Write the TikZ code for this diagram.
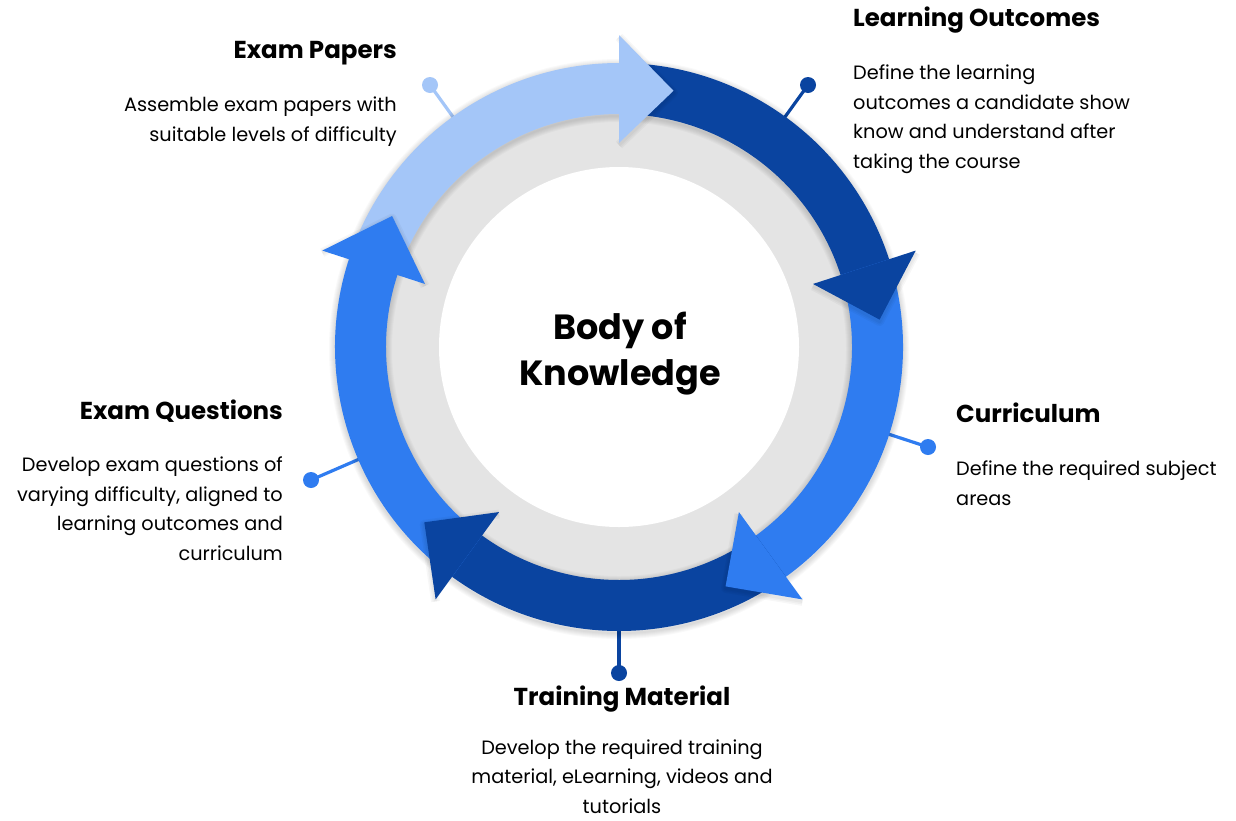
\documentclass[tikz,border=0pt]{standalone}
\usepackage{fontspec}
\setmainfont{Poppins}
\definecolor{lb}{HTML}{A4C6F8}
\definecolor{db}{HTML}{0A44A0}
\definecolor{mb}{HTML}{2F7CF0}
\definecolor{rg}{HTML}{E4E4E4}
\begin{document}
\begin{tikzpicture}[x=1pt,y=-1pt,
  headtxt/.style={font=\fontsize{24.5}{28}\selectfont\bfseries, inner sep=0pt},
  bodytxt/.style={font=\fontsize{19.3}{29.5}\selectfont, inner sep=0pt},
  pinline/.style={line width=3.2pt},
  pindot/.style={circle, minimum size=16pt, inner sep=0pt}]
\useasboundingbox (0,0) rectangle (1236,820);
\fill[white] (0,0) rectangle (1236,820);

% pins (drawn first, their inner ends are hidden under the ring)
\node[pindot, fill=lb] (dEP) at (430,85) {};
\node[pindot, fill=db] (dLO) at (808,85) {};
\node[pindot, fill=mb] (dCU) at (928,447) {};
\node[pindot, fill=db] (dTR) at (619,673) {};
\node[pindot, fill=mb] (dEQ) at (311,480) {};
\coordinate (eEP) at (461,128);
\coordinate (eLO) at (777,128);
\coordinate (eCU) at (876,430);
\coordinate (eTR) at (619,617);
\coordinate (eEQ) at (371,454);
\draw[pinline, lb] (dEP.center) -- (eEP);
\draw[pinline, db] (dLO.center) -- (eLO);
\draw[pinline, mb] (dCU.center) -- (eCU);
\draw[pinline, db] (dTR.center) -- (eTR);
\draw[pinline, mb] (dEQ.center) -- (eEQ);

\begin{scope}[shift={(619,347)}, y=1pt]
  % grey ring
  \fill[rg] (0,0) circle (245);
  \fill[white] (0,0) circle (180);
  % soft shadow of the coloured band
  \foreach \w in {2,4,6,8,10,12} {
    \draw[black, opacity=0.022, line width=\w pt] (0,-2) circle (284);
    \draw[black, opacity=0.022, line width=\w pt] (0,-2) circle (233);
  }
  % bodies
  \foreach \c/\a/\b in {lb/162/90, db/90/18, mb/18/-54, db/-54/-126, mb/-126/-198} {
    \fill[\c] (\a:284) arc[start angle=\a, end angle=\b-2, radius=284]
      -- (\b-2:233) arc[start angle=\b-2, end angle=\a, radius=233] -- cycle;
  }
  % heads
  \foreach \c/\b in {lb/90, db/18, mb/-54, db/-126, mb/-198} {
    \foreach \w in {3,6,9} {
      \draw[black, opacity=0.03, line width=\w pt, line join=round]
        ([yshift=-2pt]\b:312) -- ([yshift=-2pt]\b-12:262) -- ([yshift=-2pt]\b:204);
    }
    \fill[\c] (\b:312) -- (\b-12:262) -- (\b:204) -- cycle;
  }
\end{scope}

% centre title (base = baseline of the last line)
\node[font=\fontsize{35}{46}\selectfont\bfseries, align=center, inner sep=0pt, anchor=base] (title) at (620,385) {Body of\\Knowledge};

% texts (multi-line nodes: base = baseline of the last line)
\node[headtxt, anchor=base east] (hEP) at (397,58) {Exam Papers};
\node[bodytxt, anchor=base east, align=right] (tEP) at (397,141) {Assemble exam papers with\\suitable levels of difficulty};

\node[headtxt, anchor=base west] (hLO) at (853,26) {Learning Outcomes};
\node[bodytxt, anchor=base west, align=left] (tLO) at (853,168) {Define the learning\\outcomes a candidate show\\know and understand after\\taking the course};

\node[headtxt, anchor=base west] (hCU) at (956,422) {Curriculum};
\node[bodytxt, anchor=base west, align=left] (tCU) at (956,505) {Define the required subject\\areas};

\node[headtxt, anchor=base east] (hEQ) at (283,419) {Exam Questions};
\node[bodytxt, anchor=base east, align=right] (tEQ) at (283,560) {Develop exam questions of\\varying difficulty, aligned to\\learning outcomes and\\curriculum};

\node[headtxt, anchor=base] (hTR) at (622,705) {Training Material};
\node[bodytxt, anchor=base, align=center] (tTR) at (622,813) {Develop the required training\\material, eLearning, videos and\\tutorials};
\end{tikzpicture}
\end{document}
